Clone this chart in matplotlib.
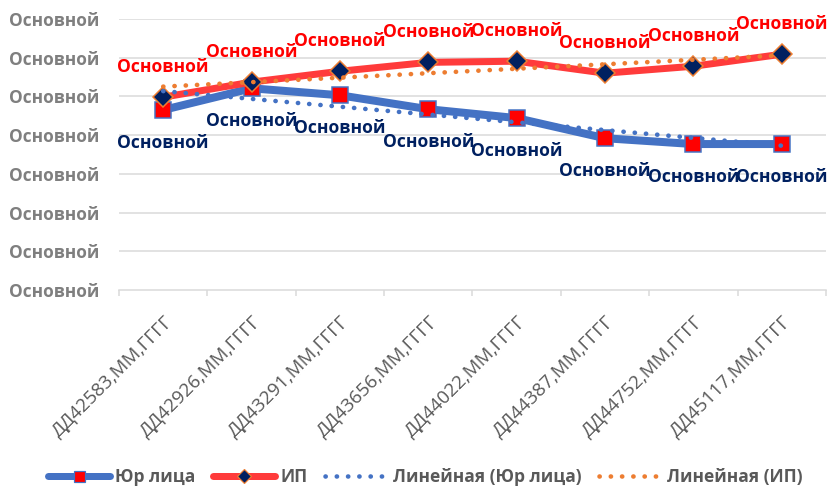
import matplotlib
matplotlib.use('Agg')
import matplotlib.pyplot as plt
from matplotlib.lines import Line2D
import numpy as np

plt.rcParams['font.family'] = ['Open Sans', 'DejaVu Sans']

categories = ['ДД42583,ММ,ГГГГ', 'ДД42926,ММ,ГГГГ', 'ДД43291,ММ,ГГГГ', 'ДД43656,ММ,ГГГГ',
              'ДД44022,ММ,ГГГГ', 'ДД44387,ММ,ГГГГ', 'ДД44752,ММ,ГГГГ', 'ДД45117,ММ,ГГГГ']
yur_values = [4.65, 5.21, 5.03, 4.67, 4.44, 3.92, 3.77, 3.77]
ip_values = [4.98, 5.37, 5.65, 5.88, 5.91, 5.60, 5.78, 6.09]
ytick_values = [0, 1, 2, 3, 4, 5, 6, 7]
ytick_labels = ['Основной'] * 8
point_label = 'Основной'
series_names = ['Юр лица', 'ИП', 'Линейная (Юр лица)', 'Линейная (ИП)']

BLUE = '#4472C4'
RED_LINE = '#FF3B3B'
RED = '#FF0000'
NAVY = '#002060'
ORANGE = '#ED7D31'
GRID = '#D9D9D9'

W, H = 829, 486
fig = plt.figure(figsize=(W / 100, H / 100), dpi=100)
ax = fig.add_axes([119 / W, 1 - 290 / H, (826 - 119) / W, (290 - 19) / H])

x = np.arange(len(categories))
px = 72 / 100  # points per pixel

ax.plot(x, yur_values, color=BLUE, lw=8 * px, solid_capstyle='round', solid_joinstyle='round',
        marker='s', markersize=16 * px, markerfacecolor=RED, markeredgecolor=BLUE,
        markeredgewidth=1.5 * px, zorder=3)
ax.plot(x, ip_values, color=RED_LINE, lw=7 * px, solid_capstyle='round', solid_joinstyle='round',
        marker='D', markersize=14 * px, markerfacecolor=NAVY, markeredgecolor=ORANGE,
        markeredgewidth=1.5 * px, zorder=4)

# linear trendlines
dot = (0, (0.05, 2.4))
dot_lw = 4.6 * px
for vals, col in ((yur_values, BLUE), (ip_values, ORANGE)):
    k, b = np.polyfit(x, vals, 1)
    ax.plot(x, k * x + b, color=col, lw=dot_lw, linestyle=dot, dash_capstyle='round', zorder=5)

fs = 12.6
for xi, v in zip(x, yur_values):
    ax.annotate(point_label, (xi, v), xytext=(0, -33 * px), textcoords='offset points',
                ha='center', va='center', color=NAVY, fontsize=fs, fontweight='bold', zorder=6)
for xi, v in zip(x, ip_values):
    ax.annotate(point_label, (xi, v), xytext=(0, 30 * px), textcoords='offset points',
                ha='center', va='center', color=RED, fontsize=fs, fontweight='bold', zorder=6)

ax.set_xlim(-0.5, len(categories) - 0.5)
ax.set_ylim(0, 7)
ax.set_yticks(ytick_values)
ax.set_yticklabels(ytick_labels, color='#7F7F7F', fontsize=12.4, fontweight='bold')
ax.tick_params(axis='y', length=0, pad=20 * px)
for yv in ytick_values[1:]:
    ax.axhline(yv, color=GRID, lw=1.5 * px, zorder=1)

ax.set_xticks(np.arange(len(categories) + 1) - 0.5)
ax.set_xticklabels([])
ax.set_xticks(x, minor=True)
ax.set_xticklabels(categories, minor=True, rotation=45, ha='right', va='top',
                   rotation_mode='anchor', color='#595959', fontsize=13.6)
ax.tick_params(axis='x', which='major', length=6 * px, color=GRID, width=1.5 * px)
ax.tick_params(axis='x', which='minor', length=0, pad=22 * px)

for s in ['top', 'right', 'left']:
    ax.spines[s].set_visible(False)
ax.spines['bottom'].set_color(GRID)
ax.spines['bottom'].set_linewidth(1.5 * px)

handles = [
    Line2D([], [], color=BLUE, lw=7 * px, solid_capstyle='round', marker='s', markersize=11 * px,
           markerfacecolor=RED, markeredgecolor=BLUE, markeredgewidth=1.2 * px),
    Line2D([], [], color=RED_LINE, lw=7 * px, solid_capstyle='round', marker='D', markersize=10 * px,
           markerfacecolor=NAVY, markeredgecolor=ORANGE, markeredgewidth=1.2 * px),
    Line2D([], [], color=BLUE, lw=dot_lw, linestyle=dot, dash_capstyle='round'),
    Line2D([], [], color=ORANGE, lw=dot_lw, linestyle=dot, dash_capstyle='round'),
]
leg = fig.legend(handles, series_names, loc='center', bbox_to_anchor=(425 / W, 1 - 477 / H),
                 ncol=4, frameon=False, numpoints=1, handlelength=3.6, handletextpad=0.3,
                 columnspacing=1.0, prop={'size': 12.5, 'weight': 'bold'})
for t in leg.get_texts():
    t.set_color('#595959')

fig.savefig('out.png', dpi=100)
